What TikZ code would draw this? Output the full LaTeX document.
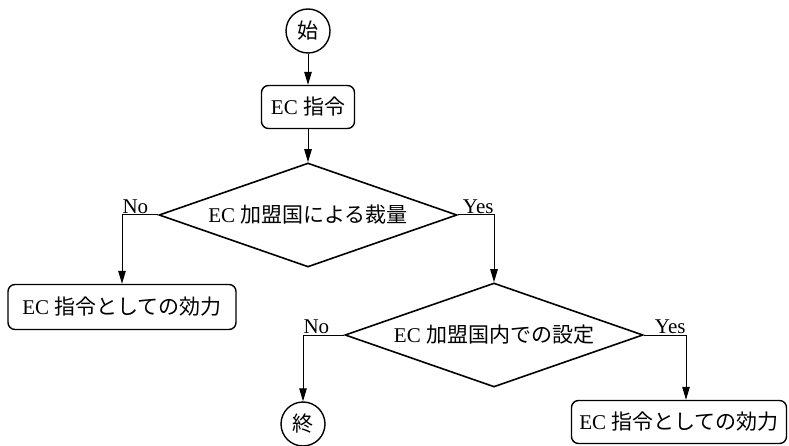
\documentclass[tikz,border=0pt]{standalone}
\usepackage{fontspec}
\setmainfont{Liberation Serif}
\newfontfamily\cjk{Noto Sans CJK JP}
\usetikzlibrary{arrows.meta, shapes.geometric}

\begin{document}
\begin{tikzpicture}[
    term/.style={circle, draw=black, line width=1.4pt, minimum size=44pt, inner sep=0pt, font=\fontsize{21}{23}\selectfont\cjk},
    proc/.style={rectangle, rounded corners=7pt, draw=black, line width=1.4pt, minimum height=43pt, inner sep=0pt, font=\fontsize{21}{24}\selectfont},
    decide/.style={diamond, aspect=2.86, draw=black, line width=1.6pt, inner sep=0pt, minimum width=298pt, minimum height=104pt, font=\fontsize{21}{24}\selectfont},
    note/.style={font=\fontsize{21}{23}\selectfont, inner sep=1pt},
    link/.style={line width=1pt, -{Triangle[length=13pt, width=7.5pt]}},
    x=1pt, y=-1pt]

    \useasboundingbox (0, 0) rectangle (789, 446);

    % ----- main column: start, directive, first decision
    \node[term] (start) at (308, 31) {始};
    \node[proc, minimum width=93pt] (directive) at (308, 107) {EC {\cjk 指令}};
    \node[decide] (member) at (308, 215) {EC {\cjk 加盟国による裁量}};

    % ----- outcomes of the first decision
    \node[proc, minimum width=228pt, minimum height=45pt] (effectA) at (122, 307) {EC {\cjk 指令としての効力}};
    \node[decide] (domestic) at (494, 335) {EC {\cjk 加盟国内での設定}};

    % ----- outcomes of the second decision
    \node[term] (stop) at (303, 424) {終};
    \node[proc, minimum width=215pt] (effectB) at (679, 422) {EC {\cjk 指令としての効力}};
    \coordinate (yesB) at (686, 335);

    \draw[link] (start) -- (directive);
    \draw[link] (directive) -- (member);
    \draw[link] (member.west) -| node[note, pos=0.5, anchor=south west, xshift=-1pt] {No} (effectA.north);
    \draw[link] (member.east) -| node[note, pos=0.5, anchor=south east, xshift=1pt] {Yes} (domestic.north);
    \draw[link] (domestic.west) -| node[note, pos=0.5, anchor=south west, xshift=-1pt] {No} (stop.north);
    \draw[link] (domestic.east) -| node[note, pos=0.5, anchor=south east, xshift=1pt] {Yes} (yesB |- effectB.north);
\end{tikzpicture}
\end{document}
